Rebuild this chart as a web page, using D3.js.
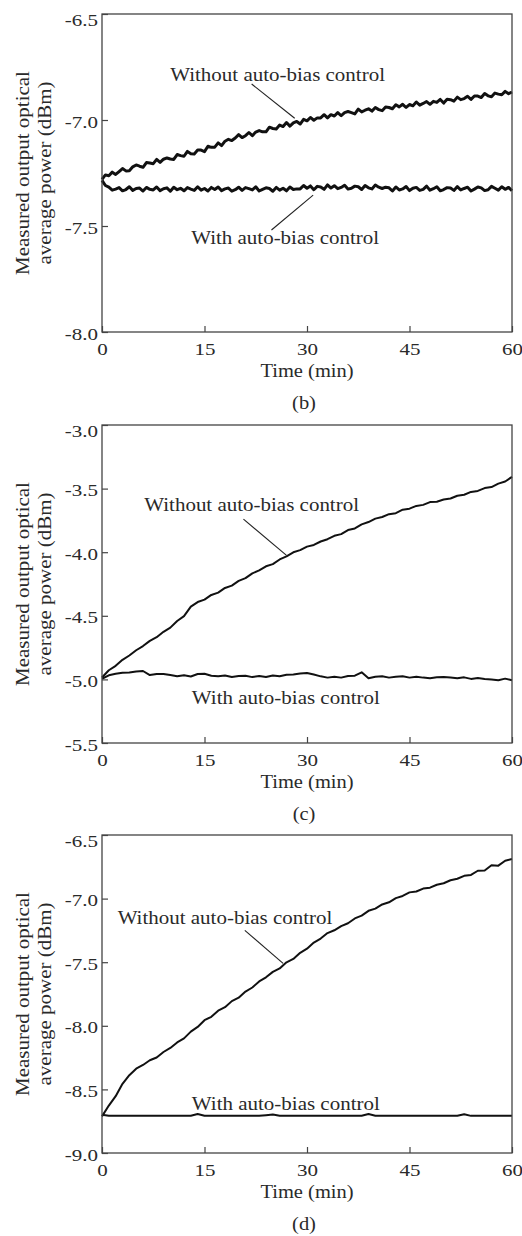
<!DOCTYPE html>
<html>
<head>
<meta charset="utf-8">
<script src="https://cdn.jsdelivr.net/npm/d3@7"></script>
<style>
  body { margin: 0; background: #fff; }
  svg { display: block; }
</style>
</head>
<body>
<svg id="chart"></svg>
<script>
// sampling grids (minutes)
const minutesFine = [0,0.5,1,1.5,2,2.5,3,3.5,4,4.5,5,5.5,6,6.5,7,7.5,8,8.5,9,9.5,10,10.5,11,11.5,12,12.5,13,13.5,14,14.5,
  15,15.5,16,16.5,17,17.5,18,18.5,19,19.5,20,20.5,21,21.5,22,22.5,23,23.5,24,24.5,25,25.5,26,26.5,27,27.5,28,28.5,29,29.5,
  30,30.5,31,31.5,32,32.5,33,33.5,34,34.5,35,35.5,36,36.5,37,37.5,38,38.5,39,39.5,40,40.5,41,41.5,42,42.5,43,43.5,44,44.5,
  45,45.5,46,46.5,47,47.5,48,48.5,49,49.5,50,50.5,51,51.5,52,52.5,53,53.5,54,54.5,55,55.5,56,56.5,57,57.5,58,58.5,59,59.5,60]
const minutesCoarse = [0,1,2,3,4,5,6,7,8,9,10,11,12,13,14,15,16,17,18,19,20,21,22,23,24,25,26,27,28,29,
  30,31,32,33,34,35,36,37,38,39,40,41,42,43,44,45,46,47,48,49,50,51,52,53,54,55,56,57,58,59,60]

const timeTicks = [0, 15, 30, 45, 60]

// (b) measured power, dBm
const powerB_without = [-7.280,-7.259,-7.263,-7.246,-7.257,-7.243,-7.229,-7.240,-7.239,-7.221,
  -7.212,-7.218,-7.223,-7.201,-7.203,-7.206,-7.186,-7.200,-7.185,-7.179,
  -7.184,-7.186,-7.163,-7.168,-7.171,-7.148,-7.159,-7.160,-7.142,-7.142,
  -7.149,-7.124,-7.129,-7.128,-7.108,-7.121,-7.100,-7.091,-7.097,-7.085,
  -7.069,-7.083,-7.074,-7.059,-7.074,-7.057,-7.050,-7.056,-7.056,-7.034,
  -7.040,-7.042,-7.024,-7.031,-7.012,-7.029,-7.014,-7.007,-7.019,-6.997,
  -7.004,-6.988,-7.001,-6.990,-6.990,-6.975,-6.990,-6.975,-6.981,-6.965,
  -6.980,-6.965,-6.960,-6.965,-6.971,-6.949,-6.962,-6.954,-6.947,-6.958,
  -6.941,-6.951,-6.956,-6.939,-6.941,-6.947,-6.928,-6.938,-6.926,-6.941,
  -6.927,-6.933,-6.915,-6.930,-6.922,-6.913,-6.926,-6.912,-6.917,-6.903,
  -6.920,-6.902,-6.904,-6.911,-6.892,-6.904,-6.899,-6.888,-6.903,-6.887,
  -6.887,-6.894,-6.875,-6.886,-6.890,-6.873,-6.878,-6.881,-6.865,-6.876,-6.868]
const powerB_with = [-7.285,-7.309,-7.317,-7.331,-7.326,-7.319,-7.334,-7.328,-7.315,-7.332,
  -7.323,-7.321,-7.335,-7.318,-7.327,-7.330,-7.316,-7.333,-7.324,-7.320,
  -7.336,-7.317,-7.329,-7.322,-7.334,-7.319,-7.326,-7.332,-7.315,-7.331,
  -7.323,-7.335,-7.318,-7.328,-7.316,-7.333,-7.325,-7.321,-7.336,-7.329,
  -7.317,-7.332,-7.319,-7.324,-7.330,-7.315,-7.335,-7.327,-7.320,-7.323,
  -7.336,-7.318,-7.331,-7.322,-7.334,-7.316,-7.328,-7.325,-7.325,-7.309,
  -7.322,-7.311,-7.329,-7.313,-7.316,-7.327,-7.306,-7.321,-7.310,-7.324,
  -7.318,-7.308,-7.326,-7.322,-7.312,-7.315,-7.328,-7.309,-7.320,-7.325,
  -7.307,-7.317,-7.323,-7.317,-7.320,-7.335,-7.316,-7.330,-7.325,-7.314,
  -7.333,-7.322,-7.318,-7.332,-7.327,-7.312,-7.331,-7.324,-7.315,-7.334,
  -7.328,-7.319,-7.321,-7.332,-7.314,-7.330,-7.323,-7.317,-7.335,-7.326,
  -7.316,-7.320,-7.333,-7.329,-7.313,-7.322,-7.331,-7.315,-7.327,-7.318,-7.334]

// (c)
const powerC_without = [-4.985,-4.928,-4.893,-4.846,-4.812,-4.771,-4.738,-4.697,-4.668,-4.626,
  -4.593,-4.541,-4.503,-4.428,-4.392,-4.373,-4.336,-4.318,-4.281,-4.263,
  -4.226,-4.204,-4.166,-4.143,-4.111,-4.094,-4.057,-4.033,-4.001,-3.984,
  -3.956,-3.943,-3.916,-3.898,-3.871,-3.858,-3.826,-3.813,-3.781,-3.763,
  -3.736,-3.723,-3.701,-3.693,-3.666,-3.658,-3.636,-3.628,-3.606,-3.603,
  -3.586,-3.578,-3.556,-3.548,-3.526,-3.518,-3.496,-3.488,-3.461,-3.444,-3.408]
const powerC_with = [-4.995,-4.968,-4.956,-4.948,-4.946,-4.938,-4.934,-4.966,-4.958,-4.957,
  -4.966,-4.976,-4.968,-4.977,-4.958,-4.956,-4.971,-4.976,-4.969,-4.981,
  -4.974,-4.971,-4.982,-4.973,-4.981,-4.969,-4.976,-4.964,-4.961,-4.954,
  -4.949,-4.962,-4.976,-4.986,-4.979,-4.986,-4.974,-4.971,-4.944,-4.991,
  -4.979,-4.976,-4.986,-4.979,-4.976,-4.986,-4.979,-4.986,-4.991,-4.984,
  -4.981,-4.986,-4.991,-4.984,-4.996,-4.989,-4.996,-5.001,-5.006,-4.994,-5.006]

// (d)
const powerD_without = [-8.712,-8.627,-8.553,-8.456,-8.388,-8.337,-8.308,-8.271,-8.249,-8.206,
  -8.174,-8.131,-8.099,-8.046,-8.009,-7.956,-7.929,-7.881,-7.854,-7.806,
  -7.779,-7.731,-7.699,-7.651,-7.619,-7.576,-7.549,-7.501,-7.474,-7.426,
  -7.394,-7.346,-7.314,-7.271,-7.249,-7.216,-7.194,-7.156,-7.134,-7.096,
  -7.079,-7.046,-7.029,-6.996,-6.979,-6.951,-6.944,-6.921,-6.914,-6.891,
  -6.879,-6.856,-6.844,-6.821,-6.814,-6.781,-6.779,-6.738,-6.741,-6.702,-6.688]
const powerD_with = [-8.700,-8.708,-8.707,-8.708,-8.707,-8.708,-8.708,-8.707,-8.708,-8.708,
  -8.707,-8.708,-8.708,-8.707,-8.694,-8.707,-8.708,-8.708,-8.707,-8.708,
  -8.708,-8.707,-8.708,-8.708,-8.703,-8.698,-8.707,-8.708,-8.708,-8.707,
  -8.708,-8.708,-8.707,-8.708,-8.708,-8.707,-8.708,-8.708,-8.707,-8.694,
  -8.707,-8.708,-8.708,-8.707,-8.708,-8.708,-8.707,-8.708,-8.708,-8.707,
  -8.708,-8.708,-8.707,-8.695,-8.708,-8.708,-8.707,-8.708,-8.708,-8.707,-8.708]

const yDomains = { b: [-8.0, -6.5], c: [-5.5, -3.0], d: [-9.0, -6.5] }
const yTicks = {
  b: [-8.0, -7.5, -7.0, -6.5],
  c: [-5.5, -5.0, -4.5, -4.0, -3.5, -3.0],
  d: [-9.0, -8.5, -8.0, -7.5, -7.0, -6.5]
}
const seriesNames = ['Without auto-bias control', 'With auto-bias control']

// label anchors in data units [minutes, dBm]
const notes = {
  b: [
    { text: seriesNames[0], at: [25.7, -6.818], from: [21.9, -6.830], to: [28.2, -6.992] },
    { text: seriesNames[1], at: [26.8, -7.585], from: [24.8, -7.519], to: [30.9, -7.354] }
  ],
  c: [
    { text: seriesNames[0], at: [21.9, -3.680], from: [20.7, -3.740], to: [27.0, -4.025] },
    { text: seriesNames[1], at: [26.9, -5.192] }
  ],
  d: [
    { text: seriesNames[0], at: [18.0, -7.200], from: [20.9, -7.250], to: [26.5, -7.509] },
    { text: seriesNames[1], at: [26.9, -8.662] }
  ]
}

const panels = [
  { key: 'b', tag: '(b)', top: 14, time: minutesFine, without: powerB_without, with: powerB_with, lw: 3 },
  { key: 'c', tag: '(c)', top: 425, time: minutesCoarse, without: powerC_without, with: powerC_with, lw: 2 },
  { key: 'd', tag: '(d)', top: 835, time: minutesCoarse, without: powerD_without, with: powerD_with, lw: 2 }
]

const width = 522, height = 1236
const left = 102, right = 512, plotH = 318
const font = '"Liberation Serif", "Times New Roman", serif'
const axisColor = '#444'
const textColor = '#2a2a2a'

const svg = d3.select('#chart')
  .attr('width', width)
  .attr('height', height)

// text with a vertical squash, the scanned font is wide and short
function label(g, text, x, y, size, squash, rotate) {
  let t = `translate(${x},${y})` + (rotate ? ' rotate(-90)' : '') + ` scale(1,${squash})`
  return g.append('text')
    .attr('transform', t)
    .attr('text-anchor', 'middle')
    .attr('font-family', font)
    .attr('font-size', size)
    .attr('fill', textColor)
    .text(text)
}

panels.forEach(p => {
  let x = d3.scaleLinear().domain([0, 60]).range([left, right])
  let y = d3.scaleLinear().domain(yDomains[p.key]).range([p.top + plotH, p.top])
  let bottom = p.top + plotH
  let g = svg.append('g').attr('class', 'panel-' + p.key)

  let line = d3.line()
    .x((d, i) => x(p.time[i]))
    .y(d => y(d))

  ;[p.without, p.with].forEach(s => {
    g.append('path')
      .datum(s)
      .attr('d', line)
      .attr('fill', 'none')
      .attr('stroke', '#111')
      .attr('stroke-width', p.lw)
      .attr('stroke-linejoin', 'round')
  })

  // frame
  g.append('rect')
    .attr('x', left).attr('y', p.top)
    .attr('width', right - left).attr('height', plotH)
    .attr('fill', 'none')
    .attr('stroke', axisColor)
    .attr('stroke-width', 1.3)

  let gx = g.append('g')
    .attr('transform', `translate(0,${bottom})`)
    .call(d3.axisBottom(x).tickValues(timeTicks).tickSizeInner(-6).tickSizeOuter(0).tickFormat(d => String(d)))
  gx.select('.domain').remove()
  gx.selectAll('.tick line').attr('stroke', axisColor).attr('stroke-width', 1.2)
  gx.selectAll('.tick text')
    .attr('y', null).attr('dy', null)
    .attr('transform', `translate(0,23) scale(1,0.8)`)
    .attr('font-family', font).attr('font-size', 21).attr('fill', textColor)

  let topTick = yTicks[p.key][yTicks[p.key].length - 1]
  let gy = g.append('g')
    .attr('transform', `translate(${left},0)`)
    .call(d3.axisLeft(y).tickValues(yTicks[p.key]).tickSizeInner(-6).tickSizeOuter(0).tickFormat(d => d.toFixed(1)))
  gy.select('.domain').remove()
  gy.selectAll('.tick line').attr('stroke', axisColor).attr('stroke-width', 1.2)
  gy.selectAll('.tick text')
    .attr('x', null).attr('dy', null)
    .attr('transform', d => `translate(-4,${d === topTick ? 11 : 7}) scale(1,0.8)`)
    .attr('font-family', font).attr('font-size', 21).attr('fill', textColor)

  label(g, 'Time (min)', x(30), bottom + 45, 20.5, 0.88)
  label(g, p.tag, 304, bottom + 77, 20.5, 0.88)

  let midY = (p.top + bottom) / 2
  label(g, 'Measured output optical', 28.5, midY, 21, 0.92, true)
  label(g, 'average power (dBm)', 51, midY, 21, 0.92, true)

  notes[p.key].forEach(n => {
    label(g, n.text, x(n.at[0]), y(n.at[1]), 21, 0.92)
    if (n.from) {
      g.append('line')
        .attr('x1', x(n.from[0])).attr('y1', y(n.from[1]))
        .attr('x2', x(n.to[0])).attr('y2', y(n.to[1]))
        .attr('stroke', '#222')
        .attr('stroke-width', 1.1)
    }
  })
})
</script>
</body>
</html>
